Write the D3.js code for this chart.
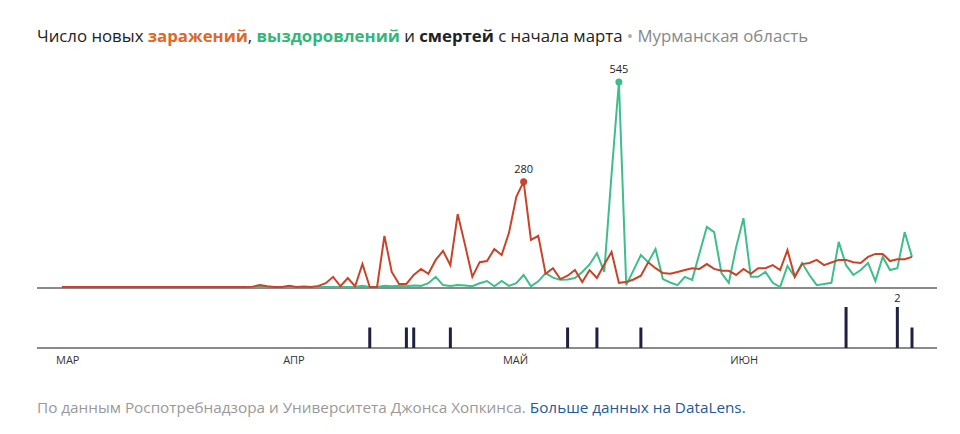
<!DOCTYPE html>
<html><head><meta charset="utf-8">
<script src="https://cdn.jsdelivr.net/npm/d3@7"></script>
<style>
body { margin: 0; background: #fff; font-family: "Open Sans", "Noto Sans", sans-serif; }
</style></head>
<body><svg id="chart" width="960" height="434"></svg>
<script>
// Day index 0 = 1 March
var MONTHS = ['МАР', 'АПР', 'МАЙ', 'ИЮН'],
    MONTH_DAYS = [0, 31, 61, 92];

var cases = [0,0,0,0,0,0,0,0,0,0, 0,0,0,0,0,0,0,0,0,0, 0,0,0,0,0,0,1,5,2,0,
    0,3,0,1,0,3,10,27,2,24, 2,61,0,0,136,40,8,8,32,48, 35,72,96,58,194,112,27,66,69,101,
    85,144,240,280,125,136,35,50,21,30, 45,13,45,24,60,93,11,13,20,30, 66,50,37,35,40,45,50,48,61,48,
    43,43,32,48,35,50,50,58,45,98, 27,61,64,72,58,65,72,72,66,64, 80,88,88,69,74,74,80];
var recovered = [0,0,0,0,0,0,0,0,0,0, 0,0,0,0,0,0,0,0,0,0, 0,0,0,0,0,0,0,0,0,0,
    0,0,0,0,0,0,0,0,0,0, 0,3,0,0,3,2,3,2,4,3, 10,27,5,3,5,4,2,10,16,2,
    16,3,10,32,2,15,37,25,19,20, 24,40,60,90,40,300,545,5,45,85, 66,101,21,12,5,27,19,90,160,146,
    37,11,106,183,27,27,40,11,0,56, 27,64,32,5,8,11,120,58,32,45, 64,16,80,45,50,146,80];
var deathDays = [42, 47, 48, 53, 69, 73, 79, 107, 114, 116],
    deathValues = [1, 1, 1, 1, 1, 1, 1, 2, 2, 1];

var RED = '#c9432a', GREEN = '#3dbe8b', BAR = '#1f2140', AXIS = '#8a8a8a';

var svg = d3.select('#chart');
var days = cases.length;

var x = d3.scaleLinear().domain([0, days - 1]).range([62, 912]);
var y = d3.scaleLinear().domain([0, 545]).range([287, 82]);
var yd = d3.scaleLinear().domain([0, 2]).range([348, 307]);

// Title
var title = svg.append('text').attr('x', 37).attr('y', 42)
    .attr('font-size', 16.8).attr('fill', '#222');
title.append('tspan').text('Число новых ');
title.append('tspan').attr('fill', '#e0662a').attr('font-weight', 'bold').text('заражений');
title.append('tspan').text(', ');
title.append('tspan').attr('fill', '#33b67c').attr('font-weight', 'bold').text('выздоровлений');
title.append('tspan').text(' и ');
title.append('tspan').attr('font-weight', 'bold').text('смертей');
title.append('tspan').text(' с начала марта ');
title.append('tspan').attr('fill', '#aaa').text(' • ');
title.append('tspan').attr('fill', '#888').text(' Мурманская область');

// Baselines
svg.append('line').attr('x1', 37).attr('x2', 937).attr('y1', y(0) + 1).attr('y2', y(0) + 1)
    .attr('stroke', AXIS).attr('stroke-width', 2);
svg.append('line').attr('x1', 37).attr('x2', 937).attr('y1', yd(0)).attr('y2', yd(0))
    .attr('stroke', AXIS).attr('stroke-width', 2);

var line = d3.line().x(function(d, i) { return x(i); }).y(function(d) { return y(d); });

svg.append('path').datum(recovered).attr('d', line)
    .attr('fill', 'none').attr('stroke', GREEN).attr('stroke-width', 2);
svg.append('path').datum(cases).attr('d', line)
    .attr('fill', 'none').attr('stroke', RED).attr('stroke-width', 2);

// Peak markers
function peak(series, color) {
    var i = d3.maxIndex(series);
    svg.append('circle').attr('cx', x(i)).attr('cy', y(series[i])).attr('r', 3.5).attr('fill', color);
    svg.append('text').attr('x', x(i)).attr('y', y(series[i]) - 9)
        .attr('text-anchor', 'middle').attr('font-size', 11).attr('fill', '#222').text(series[i]);
}
peak(cases, RED);
peak(recovered, GREEN);

// Deaths bars
svg.selectAll('rect.death').data(deathDays).enter().append('rect')
    .attr('x', function(d) { return x(d) - 1.5; })
    .attr('width', 3)
    .attr('y', function(d, i) { return yd(deathValues[i]); })
    .attr('height', function(d, i) { return yd(0) - yd(deathValues[i]); })
    .attr('fill', BAR);
var lastMax = deathValues.lastIndexOf(d3.max(deathValues));
svg.append('text').attr('x', x(deathDays[lastMax])).attr('y', yd(deathValues[lastMax]) - 5)
    .attr('text-anchor', 'middle').attr('font-size', 11).attr('fill', '#222').text(deathValues[lastMax]);

// Month labels
svg.selectAll('text.month').data(MONTHS).enter().append('text')
    .attr('x', function(d, i) { return x(MONTH_DAYS[i]) - 6; })
    .attr('y', 364).attr('font-size', 11).attr('fill', '#333').text(function(d) { return d; });

// Footer
var foot = svg.append('text').attr('x', 37).attr('y', 413).attr('font-size', 15.3).attr('fill', '#999');
foot.append('tspan').text('По данным Роспотребнадзора и Университета Джонса Хопкинса. ');
foot.append('tspan').attr('fill', '#1d5a9c').text('Больше данных на DataLens.');
</script>
</body></html>
